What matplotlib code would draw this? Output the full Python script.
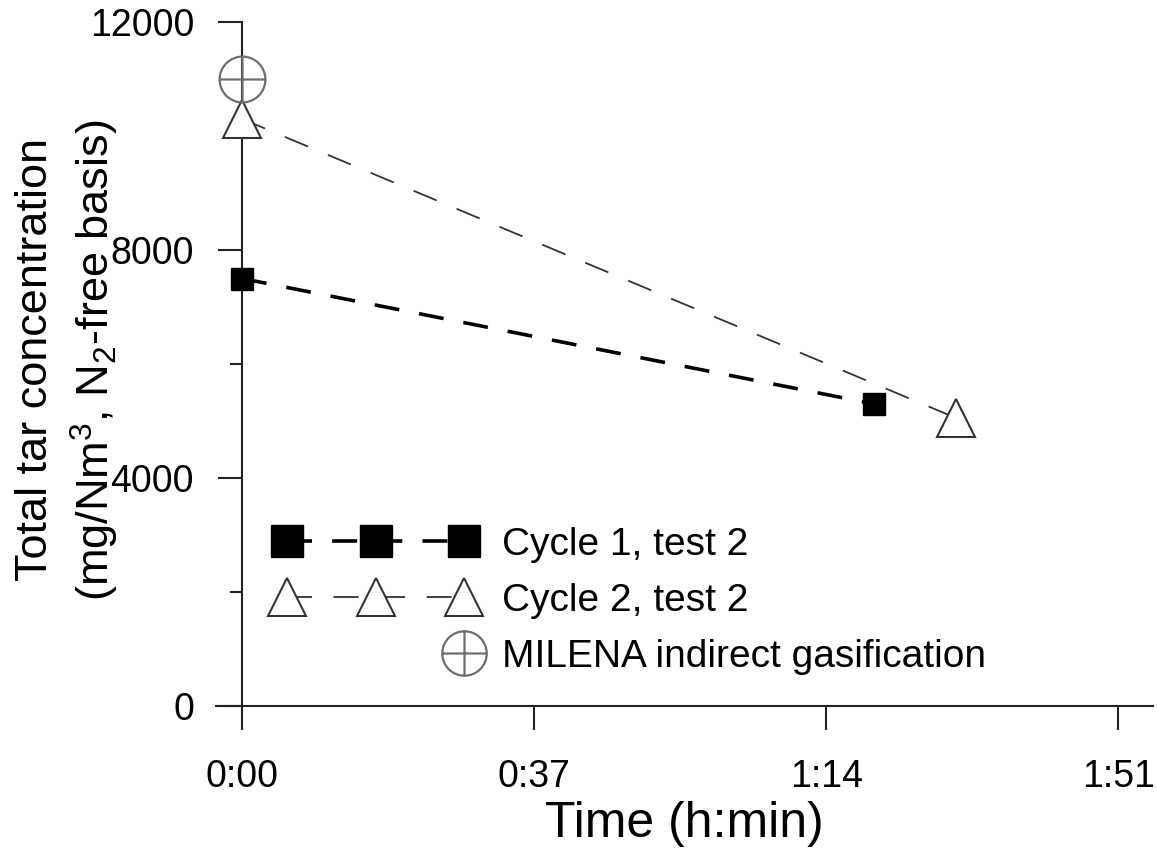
import numpy as np
import matplotlib
matplotlib.use("Agg")
import matplotlib.pyplot as plt
from matplotlib.path import Path
from matplotlib.lines import Line2D
from matplotlib.legend_handler import HandlerLine2D
from matplotlib.ticker import FuncFormatter, FixedLocator

# data (time in minutes, tar in mg/Nm3)
cycle1_time = [0, 80]
cycle1_tar = [7500, 5300]
cycle2_time = [0, 90.5]
cycle2_tar = [10300, 5050]
milena_time = [0]
milena_tar = [11000]

x_ticks = [0, 37, 74, 111]
y_ticks = [0, 4000, 8000, 12000]
y_minor = [2000, 6000, 10000]

plt.rcParams["font.family"] = ["Liberation Sans", "DejaVu Sans"]
plt.rcParams["mathtext.default"] = "regular"
plt.rcParams["lines.scale_dashes"] = False

# circle with a cross in it
oplus = Path.make_compound_path(
    Path.unit_circle(),
    Path([(-1, 0), (1, 0)], [Path.MOVETO, Path.LINETO]),
    Path([(0, -1), (0, 1)], [Path.MOVETO, Path.LINETO]),
)


class LastMarker(HandlerLine2D):
    # only show the marker at the right end of the legend handle
    def create_artists(self, *args, **kwargs):
        arts = super().create_artists(*args, **kwargs)
        for a in arts:
            a.set_markevery([len(a.get_xdata()) - 1])
        return arts


fig = plt.figure(figsize=(11.57, 8.49), dpi=100)
ax = fig.add_axes([216 / 1157, 143 / 849, 937 / 1157, 684 / 849])

ax.plot(cycle1_time, cycle1_tar, color="black", lw=2.6, dashes=(18, 14.5),
        marker="s", ms=15.5, mfc="black", mec="black", clip_on=False, zorder=3)
ax.plot(cycle2_time, cycle2_tar, color="#333333", lw=1.3, dashes=(18, 15.5),
        marker="^", ms=27, mfc="white", mec="#333333", mew=1.5, clip_on=False, zorder=3)
ax.plot(milena_time, milena_tar, ls="none", marker=oplus, ms=33,
        mfc="none", mec="#6e6e6e", mew=1.6, clip_on=False, zorder=4)

ax.set_xlim(-3.29, 115.4)
ax.set_ylim(0, 12000)
ax.spines["left"].set_position(("data", 0))
ax.spines["top"].set_visible(False)
ax.spines["right"].set_visible(False)
for s in ("left", "bottom"):
    ax.spines[s].set_linewidth(1.5)
    ax.spines[s].set_color("#222222")

ax.xaxis.set_major_locator(FixedLocator(x_ticks))
ax.xaxis.set_major_formatter(FuncFormatter(lambda m, p: f"{int(m // 60)}:{int(m % 60):02d}"))
ax.yaxis.set_major_locator(FixedLocator(y_ticks))
ax.yaxis.set_minor_locator(FixedLocator(y_minor))
ax.tick_params(axis="both", which="major", direction="out", length=17, width=1.5,
               color="#222222", labelsize=27)
ax.tick_params(axis="y", which="minor", direction="out", length=9, width=1.5, color="#222222")
ax.tick_params(axis="x", pad=21)
ax.tick_params(axis="y", pad=17.5)

ax.set_xlabel("Time (h:min)", fontsize=36)
ax.xaxis.set_label_coords(0.5, -0.139)
ax.set_ylabel("Total tar concentration\n(mg/Nm$^3$, N$_2$-free basis)", fontsize=32.5,
              linespacing=1.33)
ax.yaxis.set_label_coords(-0.101, 0.506)

h1 = Line2D([], [], color="black", lw=2.6, dashes=(18, 14.5), marker="s", ms=22.5,
            mfc="black", mec="black")
h2 = Line2D([], [], color="#333333", lw=1.3, dashes=(18, 15.5), marker="^", ms=27,
            mfc="white", mec="#333333", mew=1.5)
h3 = Line2D([], [], ls="none", marker=oplus, ms=32, mfc="none", mec="#6e6e6e", mew=1.6)
leg = ax.legend([h1, h2, h3],
                ["Cycle 1, test 2", "Cycle 2, test 2", "MILENA indirect gasification"],
                handler_map={h3: LastMarker()},
                numpoints=3, frameon=False, fontsize=28, handlelength=5.17,
                handletextpad=0.67, labelspacing=0.51, borderpad=0, borderaxespad=0,
                loc="upper left", bbox_to_anchor=(275 / 1157, 1 - 527 / 849),
                bbox_transform=fig.transFigure)

fig.savefig("out.png", dpi=100)
